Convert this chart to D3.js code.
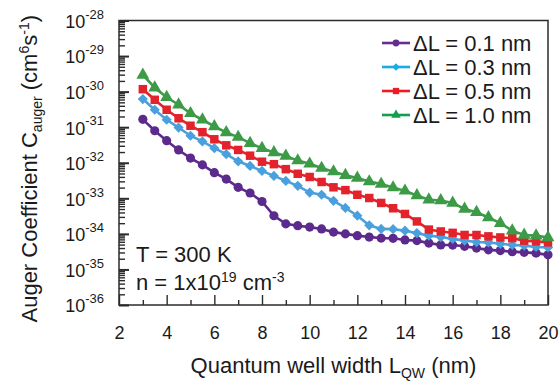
<!DOCTYPE html>
<html>
<head>
<meta charset="utf-8">
<script src="https://cdn.jsdelivr.net/npm/d3@7"></script>
<style>
  html, body { margin: 0; padding: 0; background: #fff; }
  svg { display: block; font-family: Arial, "Liberation Sans", Helvetica, sans-serif; }
</style>
</head>
<body>
<svg id="chart" width="560" height="387"></svg>
<script>
// ---- Data ----
const wellWidth = [3, 3.5, 4, 4.5, 5, 5.5, 6, 6.5, 7, 7.5, 8, 8.5, 9, 9.5, 10, 10.5, 11, 11.5,
                   12, 12.5, 13, 13.5, 14, 14.5, 15, 15.5, 16, 16.5, 17, 17.5, 18, 18.5, 19, 19.5, 20];

const cAuger01 = [1.66e-31, 7.94e-32, 4.17e-32, 2.29e-32, 1.35e-32, 8.71e-33, 5.25e-33, 3.47e-33, 2.04e-33,
                  1.41e-33, 8.13e-34, 3.24e-34, 1.91e-34, 1.70e-34, 1.55e-34, 1.38e-34, 1.12e-34, 1.00e-34,
                  8.91e-35, 8.13e-35, 7.59e-35, 7.50e-35, 6.76e-35, 6.46e-35, 5.50e-35, 4.90e-35, 4.85e-35,
                  4.47e-35, 3.98e-35, 3.55e-35, 3.39e-35, 3.16e-35, 3.02e-35, 2.88e-35, 2.57e-35];

const cAuger03 = [6.17e-31, 3.09e-31, 1.62e-31, 9.77e-32, 5.75e-32, 3.98e-32, 2.57e-32, 1.74e-32, 1.10e-32,
                  8.13e-33, 5.89e-33, 4.27e-33, 3.09e-33, 2.24e-33, 1.45e-33, 1.26e-33, 8.51e-34, 5.37e-34,
                  3.24e-34, 1.74e-34, 1.38e-34, 1.36e-34, 1.23e-34, 1.05e-34, 8.91e-35, 8.13e-35, 7.24e-35,
                  6.46e-35, 5.89e-35, 5.75e-35, 5.25e-35, 4.90e-35, 4.68e-35, 4.27e-35, 4.17e-35];

const cAuger05 = [1.17e-30, 5.89e-31, 3.09e-31, 1.78e-31, 1.10e-31, 7.24e-32, 4.57e-32, 3.09e-32, 2.29e-32,
                  1.58e-32, 1.07e-32, 9.12e-33, 6.61e-33, 4.90e-33, 3.98e-33, 2.88e-33, 2.04e-33, 1.70e-33,
                  1.26e-33, 1.02e-33, 7.41e-34, 5.25e-34, 3.63e-34, 2.24e-34, 1.32e-34, 1.17e-34, 1.07e-34,
                  9.33e-35, 9.30e-35, 8.51e-35, 7.94e-35, 7.59e-35, 6.46e-35, 6.17e-35, 5.75e-35];

const cAuger10 = [2.95e-30, 1.29e-30, 6.92e-31, 4.27e-31, 2.45e-31, 1.62e-31, 1.05e-31, 7.08e-32, 5.25e-32,
                  3.55e-32, 2.57e-32, 1.95e-32, 1.55e-32, 1.15e-32, 9.33e-33, 7.08e-33, 5.62e-33, 4.47e-33,
                  3.72e-33, 2.95e-33, 2.51e-33, 2.00e-33, 1.62e-33, 1.20e-33, 9.12e-34, 8.71e-34, 7.41e-34,
                  5.01e-34, 4.07e-34, 2.88e-34, 2.00e-34, 1.23e-34, 9.33e-35, 8.91e-35, 7.94e-35];

const seriesLabels = ["\u0394L = 0.1 nm", "\u0394L = 0.3 nm", "\u0394L = 0.5 nm", "\u0394L = 1.0 nm"];
const xTickValues = [2, 4, 6, 8, 10, 12, 14, 16, 18, 20];
const xMinorTickValues = [3, 5, 7, 9, 11, 13, 15, 17, 19];
const yTickExponents = [-36, -35, -34, -33, -32, -31, -30, -29, -28];

// ---- Style ----
const lineColors   = ["#5b2a8c", "#4aa0dc", "#e2232b", "#3d9b48"];
const legendColors = ["#662d91", "#1aaae8", "#ed1c24", "#12a050"];
const symbols = ["circle", "diamond", "square", "triangle"];

const series = [cAuger01, cAuger03, cAuger05, cAuger10].map((vals, i) => ({
  label: seriesLabels[i],
  color: lineColors[i],
  legendColor: legendColors[i],
  symbol: symbols[i],
  points: wellWidth.map((w, j) => ({ x: w, y: vals[j] }))
}));

const svg = d3.select("#chart");
const margin = { left: 119, right: 12, top: 20.5, bottom: 82 };
const W = 560, H = 387;
const x = d3.scaleLinear().domain([2, 20]).range([margin.left, W - margin.right]);
const y = d3.scaleLog().domain([1e-36, 1e-28]).range([H - margin.bottom, margin.top]);

const frameColor = "#2b2b2b";
const textColor = "#1a1a1a";

// minor y ticks
const yMinor = [];
for (let e = -36; e < -28; e++) for (let m = 2; m <= 9; m++) yMinor.push(m * Math.pow(10, e));

const gx = svg.append("g");
const gy = svg.append("g");

// Y axis minor
gy.append("g").attr("transform", `translate(${x(2)},0)`)
  .call(d3.axisLeft(y).tickValues(yMinor).tickSize(-6).tickFormat(""))
  .call(g => g.select(".domain").remove())
  .call(g => g.selectAll("line").attr("stroke", frameColor).attr("stroke-width", 1.4));

// Y axis major
const yTickVals = yTickExponents.map(e => Math.pow(10, e));
const yAx = gy.append("g").attr("transform", `translate(${x(2)},0)`)
  .call(d3.axisLeft(y).tickValues(yTickVals).tickSize(-10).tickPadding(15).tickFormat(""))
  .call(g => g.select(".domain").remove())
  .call(g => g.selectAll("line").attr("stroke", frameColor).attr("stroke-width", 2));
yAx.selectAll(".tick").each(function(d) {
  const t = d3.select(this).select("text")
    .attr("fill", textColor).attr("font-size", 18).attr("dy", "0.38em")
    .attr("font-family", "Arial, 'Liberation Sans', sans-serif");
  t.append("tspan").text("10");
  t.append("tspan").attr("font-size", 13).attr("dy", "-0.7em").text(String(Math.round(Math.log10(d))));
});

// X axis minor
gx.append("g").attr("transform", `translate(0,${y(1e-36)})`)
  .call(d3.axisBottom(x).tickValues(xMinorTickValues).tickSize(-5).tickFormat(""))
  .call(g => g.select(".domain").remove())
  .call(g => g.selectAll("line").attr("stroke", frameColor).attr("stroke-width", 1.4));
// X axis major
gx.append("g").attr("transform", `translate(0,${y(1e-36)})`)
  .call(d3.axisBottom(x).tickValues(xTickValues).tickSize(-10).tickPadding(21).tickFormat(d3.format("d")))
  .call(g => g.select(".domain").remove())
  .call(g => g.selectAll("line").attr("stroke", frameColor).attr("stroke-width", 1.4))
  .call(g => g.selectAll("text").attr("fill", textColor).attr("font-size", 18)
    .attr("font-family", "Arial, 'Liberation Sans', sans-serif"));

// frame
svg.append("rect")
  .attr("x", x(2)).attr("y", y(1e-28))
  .attr("width", x(20) - x(2)).attr("height", y(1e-36) - y(1e-28))
  .attr("fill", "none").attr("stroke", frameColor).attr("stroke-width", 1.5);

// Series
const line = d3.line().x(d => x(d.x)).y(d => y(d.y));
function symbolPath(kind, scale) {
  if (kind === "circle") return d3.symbol().type(d3.symbolCircle).size(66 * scale)();
  if (kind === "diamond") return d3.symbol().type(d3.symbolSquare).size(52 * scale)();
  if (kind === "square") return d3.symbol().type(d3.symbolSquare).size(72 * scale)();
  return d3.symbol().type(d3.symbolTriangle).size(72 * scale)();
}
const plot = svg.append("g");
series.forEach(s => {
  const g = plot.append("g");
  g.append("path").datum(s.points).attr("d", line)
    .attr("fill", "none").attr("stroke", s.color).attr("stroke-width", 2.6);
  g.selectAll("path.m").data(s.points).join("path").attr("class", "m")
    .attr("d", symbolPath(s.symbol, 1))
    .attr("transform", d => `translate(${x(d.x)},${y(d.y)})` + (s.symbol === "diamond" ? " rotate(45)" : ""))
    .attr("fill", s.color);
});

// Legend
const legend = svg.append("g");
const legY0 = 43, legDy = 24;
series.forEach((s, i) => {
  const yy = legY0 + i * legDy;
  legend.append("line").attr("x1", 382).attr("x2", 410).attr("y1", yy).attr("y2", yy)
    .attr("stroke", s.legendColor).attr("stroke-width", 2.6);
  legend.append("path").attr("d", symbolPath(s.symbol, 0.55))
    .attr("transform", `translate(396,${yy})` + (s.symbol === "diamond" ? " rotate(45)" : ""))
    .attr("fill", s.legendColor);
  legend.append("text").attr("x", 413).attr("y", yy).attr("dy", "0.36em")
    .attr("font-size", 22).attr("fill", textColor).text(s.label);
});

// Annotations
svg.append("text").attr("x", 136).attr("y", 262).attr("font-size", 22).attr("fill", textColor)
  .text("T = 300 K");
const nText = svg.append("text").attr("x", 136).attr("y", 290).attr("font-size", 22).attr("fill", textColor);
nText.append("tspan").text("n = 1x10");
nText.append("tspan").attr("font-size", 14).attr("dy", -8).text("19");
nText.append("tspan").attr("dy", 8).text(" cm");
nText.append("tspan").attr("font-size", 14).attr("dy", -8).text("-3");

// Axis titles
const xt = svg.append("text").attr("x", (x(2) + x(20)) / 2).attr("y", 373)
  .attr("text-anchor", "middle").attr("font-size", 22).attr("fill", textColor);
xt.append("tspan").text("Quantum well width L");
xt.append("tspan").attr("font-size", 14).attr("dy", 5).text("QW");
xt.append("tspan").attr("dy", -5).text(" (nm)");

const yt = svg.append("text").attr("transform", `translate(37,${(y(1e-36) + y(1e-28)) / 2 + 6}) rotate(-90)`)
  .attr("text-anchor", "middle").attr("font-size", 22).attr("fill", textColor);
yt.append("tspan").text("Auger Coefficient C");
yt.append("tspan").attr("font-size", 14).attr("dy", 5).text("auger");
yt.append("tspan").attr("dy", -5).text("  (cm");
yt.append("tspan").attr("font-size", 14).attr("dy", -8).text("6");
yt.append("tspan").attr("dy", 8).text("s");
yt.append("tspan").attr("font-size", 14).attr("dy", -8).text("-1");
yt.append("tspan").attr("dy", 8).text(")");
</script>
</body>
</html>
